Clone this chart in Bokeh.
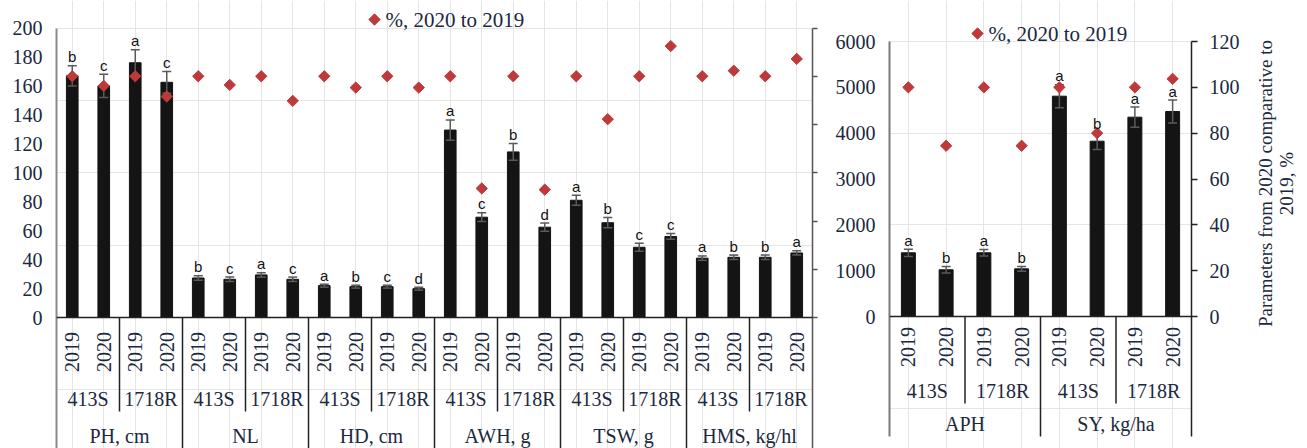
import math
from bokeh.plotting import figure
from bokeh.models import (FactorRange, Range1d, LinearAxis, FixedTicker, Span,
                          ColumnDataSource, CustomJSTickFormatter)
from bokeh.layouts import row
from bokeh.embed import file_html
from bokeh.resources import INLINE
from bokeh.core.properties import value

# ---------------- data ----------------
strains = ["413S", "1718R"]
years = ["2019", "2020"]

left_params = ["PH, cm", "NL", "HD, cm", "AWH, g", "TSW, g", "HMS, kg/hl"]
left_values = [167, 160, 176, 162.5,
               27.3, 26.4, 29.4, 26.4,
               22.0, 21.3, 21.3, 19.9,
               129.5, 69.3, 114.4, 62.4,
               81.0, 65.5, 48.5, 56.0,
               41.0, 41.6, 41.6, 44.6]
left_errors = [7, 8, 9, 7.5,
               1.5, 1.5, 1.5, 1.5,
               1.0, 1.0, 1.0, 1.0,
               7.0, 3.0, 5.8, 2.8,
               3.5, 3.5, 2.8, 2.0,
               1.5, 1.5, 1.5, 1.5]
left_percent = [100, 96, 100, 91.6,
                100, 96.4, 100, 89.8,
                100, 95.3, 100, 95.3,
                100, 53.5, 100, 53,
                100, 82.2, 100, 112.5,
                100, 102.3, 100, 107.2]
left_letters = ["b", "c", "a", "c",
                "b", "c", "a", "c",
                "a", "b", "c", "d",
                "a", "c", "b", "d",
                "a", "b", "c", "c",
                "a", "b", "b", "a"]

right_params = ["APH", "SY, kg/ha"]
right_values = [1390, 1019, 1390, 1040, 4807, 3825, 4349, 4473]
right_errors = [80, 70, 70, 50, 250, 180, 220, 250]
right_percent = [100, 74.5, 100, 74.5, 100, 80, 100, 103.7]
right_letters = ["a", "b", "a", "b", "a", "b", "a", "a"]

legend_text = "%, 2020 to 2019"
pct_axis_title = ["Parameters from 2020 comparative to", "2019, %"]

# ---------------- style ----------------
SERIF = "Liberation Serif"
SANS = "Liberation Sans"
TXT = "#1b2840"
BAR = "#141414"
ERR = "#5a5a5a"
PCT = "#BE3A3A"
LINE = "#222222"
FIG_H = 448
FRAME_TOP = 0
FRAME_BOTTOM = FIG_H


def build(params, values, errors, percent, letters, *, fig_x, width, border_left,
          border_right, zero_y, top_y, vmax, vstep, pmax, pstep, year_y, strain_y,
          param_y, strain_sep_y, table_bottom_y, legend_xy, show_pct_labels,
          left_axis_color, right_axis_color, right_tick_out):
    factors = [(pa, s, yr) for pa in params for s in strains for yr in years]
    scale = (zero_y - top_y) / vmax
    pscale = (zero_y - top_y) / pmax
    frame_left = fig_x + border_left
    frame_w = width - border_left - border_right
    fpx = frame_w / len(factors)

    def d(sy):
        return (zero_y - sy) / scale

    def pdd(sy):
        return (zero_y - sy) / pscale

    def fx(sx):
        return (sx - frame_left) / fpx

    p = figure(width=width, height=FIG_H,
               x_range=FactorRange(*factors, factor_padding=0, subgroup_padding=0,
                                   group_padding=0, range_padding=0),
               y_range=Range1d(d(FRAME_BOTTOM), d(FRAME_TOP)),
               x_axis_location=None, y_axis_location=None,
               output_backend="svg", toolbar_location=None,
               min_border_left=border_left, min_border_right=border_right,
               min_border_top=0, min_border_bottom=0)
    p.outline_line_color = None
    p.background_fill_color = "white"
    p.border_fill_color = "white"
    p.extra_y_ranges = {"pct": Range1d(pdd(FRAME_BOTTOM), pdd(FRAME_TOP))}

    # left value axis
    la = LinearAxis(ticker=FixedTicker(ticks=list(range(0, vmax + 1, vstep))),
                    bounds=(d(table_bottom_y), vmax))
    la.axis_line_color = left_axis_color
    la.axis_line_width = 2
    la.major_tick_out = 0
    la.major_tick_in = 0
    la.minor_tick_out = 0
    la.minor_tick_in = 0
    la.major_label_standoff = 14
    la.major_label_text_font = SERIF
    la.major_label_text_font_size = "20px"
    la.major_label_text_color = TXT
    p.add_layout(la, "left")

    # right percent axis
    ra = LinearAxis(y_range_name="pct",
                    ticker=FixedTicker(ticks=list(range(0, pmax + 1, pstep))),
                    bounds=(pdd(table_bottom_y), pmax))
    ra.axis_line_color = right_axis_color
    ra.axis_line_width = 1.5
    ra.major_tick_line_color = right_axis_color
    ra.major_tick_line_width = 1.5
    ra.major_tick_out = right_tick_out
    ra.major_tick_in = 0
    ra.minor_tick_out = 0
    ra.minor_tick_in = 0
    ra.major_label_text_font = SERIF
    ra.major_label_text_font_size = "20px"
    ra.major_label_text_color = TXT
    if show_pct_labels:
        ra.major_label_standoff = 12
    else:
        ra.major_label_standoff = 0
        ra.formatter = CustomJSTickFormatter(code="return ''")
    p.add_layout(ra, "right")

    src = ColumnDataSource(dict(
        x=factors, v=values,
        lo=[v - e for v, e in zip(values, errors)],
        hi=[v + e for v, e in zip(values, errors)],
        pct=percent, letter=letters))

    p.vbar(x="x", top="v", width=0.37, source=src, fill_color=BAR, line_color=BAR)
    p.segment(x0="x", y0="lo", x1="x", y1="hi", source=src, line_color=ERR, line_width=1.5)
    p.scatter(x="x", y="hi", source=src, marker="dash", size=9, line_color=ERR, line_width=1.5)
    p.scatter(x="x", y="lo", source=src, marker="dash", size=9, line_color=ERR, line_width=1.5)
    p.scatter(x="x", y="pct", source=src, y_range_name="pct", marker="square",
              angle=math.pi / 4, size=8, fill_color=PCT, line_color=PCT)
    p.text(x="x", y="hi", text="letter", source=src, y_offset=-9,
           text_font=value(SANS), text_font_size="15px", text_color="#111111",
           text_align="center", text_baseline="alphabetic")

    # category table below the bars
    p.add_layout(Span(location=0, dimension="width", line_color=LINE, line_width=1.5))
    n = len(params)
    strain_seps = [4 * k + 2 for k in range(n)]
    param_seps = [4 * k for k in range(1, n)]
    p.segment(x0=strain_seps, y0=[0] * len(strain_seps), x1=strain_seps,
              y1=[d(strain_sep_y)] * len(strain_seps), line_color=LINE, line_width=1.5)
    if param_seps:
        p.segment(x0=param_seps, y0=[0] * len(param_seps), x1=param_seps,
                  y1=[d(table_bottom_y)] * len(param_seps), line_color=LINE, line_width=1.5)

    p.text(x=factors, y=[d(year_y)] * len(factors), text=[f[2] for f in factors],
           angle=math.pi / 2, text_font=value(SERIF), text_font_size="20px",
           text_color=TXT, text_align="center", text_baseline="middle")
    sfac = [(pa, s) for pa in params for s in strains]
    p.text(x=sfac, y=[d(strain_y)] * len(sfac), text=[f[1] for f in sfac],
           text_font=value(SERIF), text_font_size="20px",
           text_color=TXT, text_align="center", text_baseline="middle")
    p.text(x=list(params), y=[d(param_y)] * n, text=list(params),
           text_font=value(SERIF), text_font_size="20px",
           text_color=TXT, text_align="center", text_baseline="middle")

    # legend (marker + label) drawn above the plotting area
    lx, ly = legend_xy
    p.scatter(x=[fx(lx)], y=[d(ly)], marker="square", angle=math.pi / 4, size=8,
              fill_color=PCT, line_color=PCT)
    p.text(x=[fx(lx + 11)], y=[d(ly)], text=[legend_text], text_font=value(SERIF),
           text_font_size="21px", text_color=TXT, text_align="left",
           text_baseline="middle")
    return p


p1 = build(left_params, left_values, left_errors, left_percent, left_letters,
           fig_x=0, width=824, border_left=56, border_right=12,
           zero_y=317, top_y=27.5, vmax=200, vstep=20, pmax=120, pstep=20,
           year_y=351.5, strain_y=398, param_y=435, strain_sep_y=411,
           table_bottom_y=448, legend_xy=(374, 19), show_pct_labels=False,
           left_axis_color="#8a8a8a", right_axis_color="#555555", right_tick_out=5)

p2 = build(right_params, right_values, right_errors, right_percent, right_letters,
           fig_x=824, width=421, border_left=65, border_right=54,
           zero_y=316, top_y=41, vmax=6000, vstep=1000, pmax=120, pstep=20,
           year_y=346.5, strain_y=390, param_y=423, strain_sep_y=403,
           table_bottom_y=436, legend_xy=(977, 33), show_pct_labels=True,
           left_axis_color="#7a7a7a", right_axis_color="#222222", right_tick_out=6)

# rotated two-line title of the percent axis
P3_X = 824 + 421
p3 = figure(width=1307 - P3_X, height=FIG_H, x_range=Range1d(P3_X, 1307),
            y_range=Range1d(FIG_H, 0), x_axis_location=None, y_axis_location=None,
            output_backend="svg", toolbar_location=None, min_border_left=0,
            min_border_right=0, min_border_top=0, min_border_bottom=0)
p3.outline_line_color = None
p3.grid.visible = False
p3.text(x=[1265, 1286], y=[183, 183], text=pct_axis_title, angle=math.pi / 2,
        text_font=value(SERIF), text_font_size="19px", text_color=TXT,
        text_align="center", text_baseline="middle")

layout = row(p1, p2, p3)
open("out.html", "w").write(file_html(layout, INLINE))
